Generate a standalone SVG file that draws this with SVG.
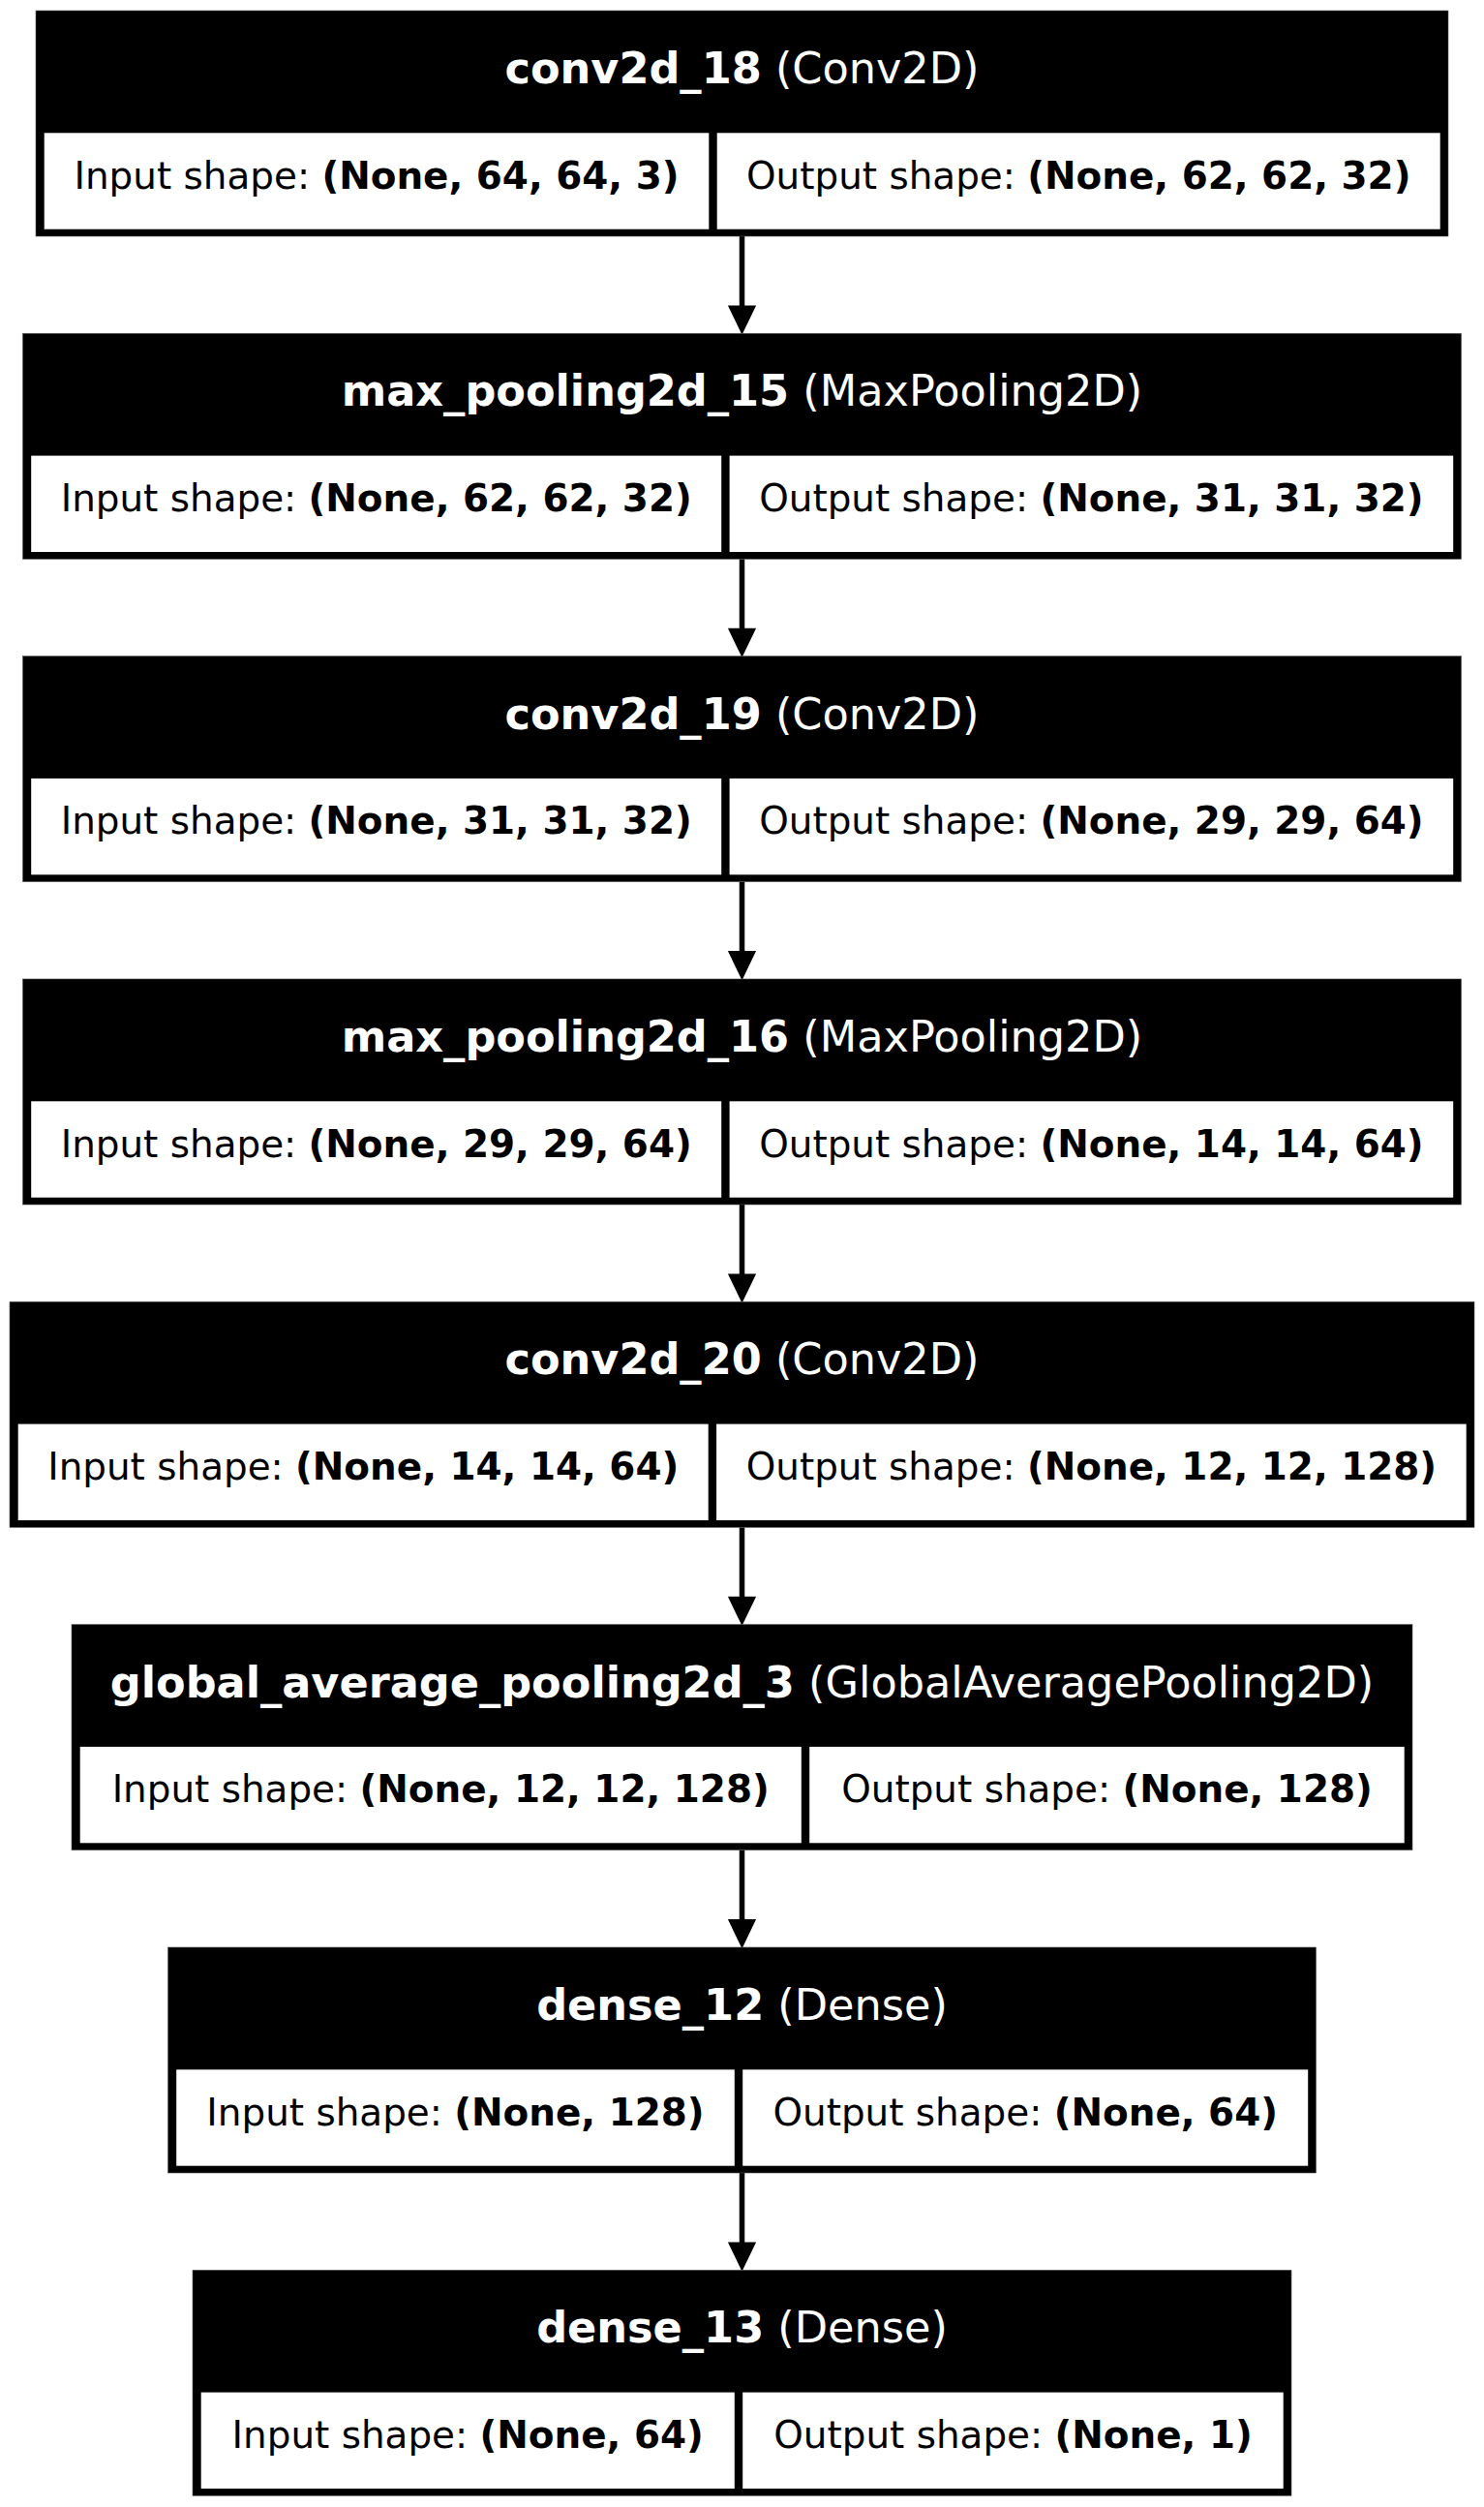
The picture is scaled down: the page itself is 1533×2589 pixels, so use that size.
<svg xmlns="http://www.w3.org/2000/svg" width="1533" height="2589" viewBox="0 0 1533 2589">
<style>
.box{fill:#000;stroke:#555;stroke-width:0.6}
.cell{fill:#fff}
.h{font-family:"DejaVu Sans",sans-serif;font-size:44.6px;fill:#fff;text-anchor:middle}
.c{font-family:"DejaVu Sans",sans-serif;font-size:38.9px;fill:#000;text-anchor:middle}
.b{font-weight:bold}
.edge{stroke:#000;stroke-width:5.5;fill:none}
.head{fill:#000;stroke:#000;stroke-width:2}
</style>
<rect width="1533" height="2589" fill="#fff"/>
<g id="connectors">
<line class="edge" x1="766.5" y1="244" x2="766.5" y2="318"/><polygon class="head" points="753.5,316.5 779.5,316.5 766.5,343.5"/>
<line class="edge" x1="766.5" y1="577.3" x2="766.5" y2="651.3"/><polygon class="head" points="753.5,649.8 779.5,649.8 766.5,676.8"/>
<line class="edge" x1="766.5" y1="910.6" x2="766.5" y2="984.6"/><polygon class="head" points="753.5,983.1 779.5,983.1 766.5,1010.1"/>
<line class="edge" x1="766.5" y1="1244" x2="766.5" y2="1318"/><polygon class="head" points="753.5,1316.5 779.5,1316.5 766.5,1343.5"/>
<line class="edge" x1="766.5" y1="1577.3" x2="766.5" y2="1651.3"/><polygon class="head" points="753.5,1649.8 779.5,1649.8 766.5,1676.8"/>
<line class="edge" x1="766.5" y1="1910.6" x2="766.5" y2="1984.6"/><polygon class="head" points="753.5,1983.1 779.5,1983.1 766.5,2010.1"/>
<line class="edge" x1="766.5" y1="2244" x2="766.5" y2="2318"/><polygon class="head" points="753.5,2316.5 779.5,2316.5 766.5,2343.5"/>
</g>
<g id="conv2d_18" transform="translate(0,11)">
<rect class="box" x="37" y="0" width="1459" height="233"/>
<rect class="cell" x="45.7" y="126.3" width="686.6" height="99.4"/>
<rect class="cell" x="740.7" y="126.3" width="747" height="99.4"/>
<text class="h" x="766.5" y="75"><tspan class="b">conv2d_18</tspan> (Conv2D)</text>
<text class="c" x="389" y="183.5">Input shape: <tspan class="b">(None, 64, 64, 3)</tspan></text>
<text class="c" x="1114.2" y="183.5">Output shape: <tspan class="b">(None, 62, 62, 32)</tspan></text>
</g>
<g id="max_pooling2d_15" transform="translate(0,344.3)">
<rect class="box" x="23.5" y="0" width="1486" height="233"/>
<rect class="cell" x="32.2" y="126.3" width="713" height="99.4"/>
<rect class="cell" x="753.6" y="126.3" width="747.6" height="99.4"/>
<text class="h" x="766.5" y="75"><tspan class="b">max_pooling2d_15</tspan> (MaxPooling2D)</text>
<text class="c" x="388.7" y="183.5">Input shape: <tspan class="b">(None, 62, 62, 32)</tspan></text>
<text class="c" x="1127.4" y="183.5">Output shape: <tspan class="b">(None, 31, 31, 32)</tspan></text>
</g>
<g id="conv2d_19" transform="translate(0,677.6)">
<rect class="box" x="23.5" y="0" width="1486" height="233"/>
<rect class="cell" x="32.2" y="126.3" width="713" height="99.4"/>
<rect class="cell" x="753.6" y="126.3" width="747.6" height="99.4"/>
<text class="h" x="766.5" y="75"><tspan class="b">conv2d_19</tspan> (Conv2D)</text>
<text class="c" x="388.7" y="183.5">Input shape: <tspan class="b">(None, 31, 31, 32)</tspan></text>
<text class="c" x="1127.4" y="183.5">Output shape: <tspan class="b">(None, 29, 29, 64)</tspan></text>
</g>
<g id="max_pooling2d_16" transform="translate(0,1011)">
<rect class="box" x="23.5" y="0" width="1486" height="233"/>
<rect class="cell" x="32.2" y="126.3" width="713" height="99.4"/>
<rect class="cell" x="753.6" y="126.3" width="747.6" height="99.4"/>
<text class="h" x="766.5" y="75"><tspan class="b">max_pooling2d_16</tspan> (MaxPooling2D)</text>
<text class="c" x="388.7" y="183.5">Input shape: <tspan class="b">(None, 29, 29, 64)</tspan></text>
<text class="c" x="1127.4" y="183.5">Output shape: <tspan class="b">(None, 14, 14, 64)</tspan></text>
</g>
<g id="conv2d_20" transform="translate(0,1344.3)">
<rect class="box" x="10" y="0" width="1513" height="233"/>
<rect class="cell" x="18.7" y="126.3" width="713" height="99.4"/>
<rect class="cell" x="740.1" y="126.3" width="774.6" height="99.4"/>
<text class="h" x="766.5" y="75"><tspan class="b">conv2d_20</tspan> (Conv2D)</text>
<text class="c" x="375.2" y="183.5">Input shape: <tspan class="b">(None, 14, 14, 64)</tspan></text>
<text class="c" x="1127.4" y="183.5">Output shape: <tspan class="b">(None, 12, 12, 128)</tspan></text>
</g>
<g id="global_average_pooling2d_3" transform="translate(0,1677.6)">
<rect class="box" x="74" y="0" width="1385" height="233"/>
<rect class="cell" x="82.7" y="126.3" width="745.1" height="99.4"/>
<rect class="cell" x="836.2" y="126.3" width="614.5" height="99.4"/>
<text class="h" x="766.5" y="75"><tspan class="b">global_average_pooling2d_3</tspan> (GlobalAveragePooling2D)</text>
<text class="c" x="455.2" y="183.5">Input shape: <tspan class="b">(None, 12, 12, 128)</tspan></text>
<text class="c" x="1143.5" y="183.5">Output shape: <tspan class="b">(None, 128)</tspan></text>
</g>
<g id="dense_12" transform="translate(0,2011)">
<rect class="box" x="173.5" y="0" width="1186" height="233"/>
<rect class="cell" x="182.2" y="126.3" width="576.6" height="99.4"/>
<rect class="cell" x="767.2" y="126.3" width="584" height="99.4"/>
<text class="h" x="766.5" y="75"><tspan class="b">dense_12</tspan> (Dense)</text>
<text class="c" x="470.5" y="183.5">Input shape: <tspan class="b">(None, 128)</tspan></text>
<text class="c" x="1059.2" y="183.5">Output shape: <tspan class="b">(None, 64)</tspan></text>
</g>
<g id="dense_13" transform="translate(0,2344.3)">
<rect class="box" x="199" y="0" width="1135" height="233"/>
<rect class="cell" x="207.7" y="126.3" width="551.1" height="99.4"/>
<rect class="cell" x="767.2" y="126.3" width="558.5" height="99.4"/>
<text class="h" x="766.5" y="75"><tspan class="b">dense_13</tspan> (Dense)</text>
<text class="c" x="483.2" y="183.5">Input shape: <tspan class="b">(None, 64)</tspan></text>
<text class="c" x="1046.5" y="183.5">Output shape: <tspan class="b">(None, 1)</tspan></text>
</g>
</svg>
